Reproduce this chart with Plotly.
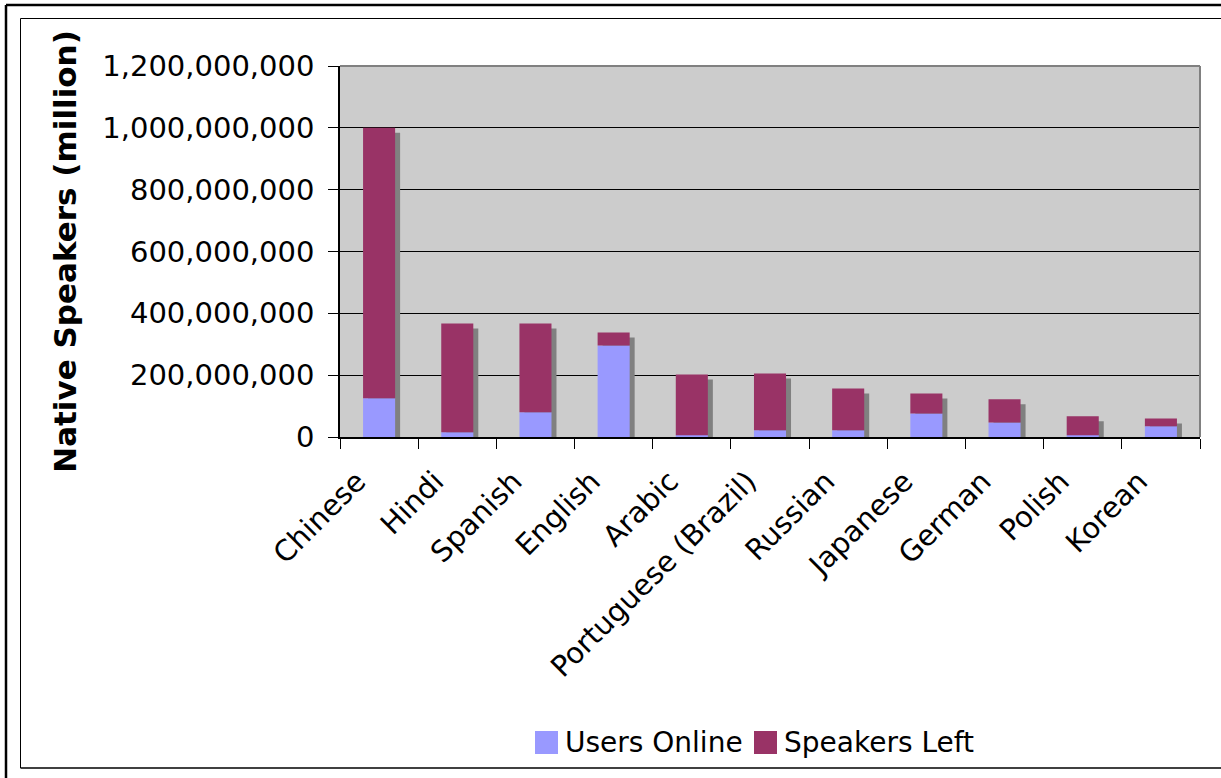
import plotly.graph_objects as go

languages = ["Chinese", "Hindi", "Spanish", "English", "Arabic", "Portuguese (Brazil)",
             "Russian", "Japanese", "German", "Polish", "Korean"]
native_speakers = [1000e6, 367e6, 367e6, 338e6, 202e6, 205e6, 157e6, 141e6, 122e6, 67e6, 60e6]
users_online = [125e6, 15e6, 80e6, 296e6, 5.5e6, 22e6, 22e6, 76e6, 47e6, 5.5e6, 34.5e6]
speakers_left = [t - u for t, u in zip(native_speakers, users_online)]

y_ticks = [0, 200e6, 400e6, 600e6, 800e6, 1000e6, 1200e6]

series_names = ["Users Online", "Speakers Left"]
series_colors = ["#9999FF", "#993366"]

W, H = 1221, 778
L, R, T, B = 340, 21, 66, 341
PW, PH = W - L - R, H - T - B
YMAX = 1200e6
BAR_W = 0.41
SHADOW_DX = 5 / (PW / len(languages))
SHADOW_DY = 5 * YMAX / PH

FONT = "DejaVu Sans"
FS = 29

fig = go.Figure()
fig.add_trace(go.Bar(
    x=languages, y=[t - SHADOW_DY for t in native_speakers], base=0,
    width=BAR_W, offset=-BAR_W / 2 + SHADOW_DX,
    marker=dict(color="#808080", line=dict(width=0)),
    showlegend=False, hoverinfo="skip"))
fig.add_trace(go.Bar(
    x=languages, y=users_online, base=0, name=series_names[0],
    width=BAR_W, offset=-BAR_W / 2, showlegend=False,
    marker=dict(color=series_colors[0], line=dict(width=0))))
fig.add_trace(go.Bar(
    x=languages, y=speakers_left, base=users_online, name=series_names[1],
    width=BAR_W, offset=-BAR_W / 2, showlegend=False,
    marker=dict(color=series_colors[1], line=dict(width=0))))


def px_x(p):
    return (p - L) / PW


def px_y(p):
    return (H - B - p) / PH


shapes = [
    # plot area top/right gray border
    dict(type="line", xref="paper", yref="paper", x0=0, x1=1, y0=1, y1=1,
         line=dict(color="#808080", width=2)),
    dict(type="line", xref="paper", yref="paper", x0=1, x1=1, y0=0, y1=1,
         line=dict(color="#808080", width=2)),
    # outer frame (cropped)
    dict(type="line", xref="paper", yref="paper", x0=px_x(6), x1=px_x(W + 5), y0=px_y(5), y1=px_y(5),
         line=dict(color="#000000", width=2.5)),
    dict(type="line", xref="paper", yref="paper", x0=px_x(6), x1=px_x(6), y0=px_y(5), y1=px_y(H + 5),
         line=dict(color="#000000", width=2.5)),
    # inner frame
    dict(type="line", xref="paper", yref="paper", x0=px_x(20.5), x1=px_x(W + 5), y0=px_y(18.5), y1=px_y(18.5),
         line=dict(color="#000000", width=1)),
    dict(type="line", xref="paper", yref="paper", x0=px_x(20.5), x1=px_x(20.5), y0=px_y(18.5), y1=px_y(768),
         line=dict(color="#000000", width=1)),
    dict(type="line", xref="paper", yref="paper", x0=px_x(20.5), x1=px_x(W + 5), y0=px_y(768), y1=px_y(768),
         line=dict(color="#000000", width=1.5)),
]

# manual legend with large square keys
legend_keys_x = [535, 754]
annotations = []
for name, color, kx in zip(series_names, series_colors, legend_keys_x):
    shapes.append(dict(type="rect", xref="paper", yref="paper",
                       x0=px_x(kx), x1=px_x(kx + 23), y0=px_y(754), y1=px_y(731),
                       fillcolor=color, line=dict(width=0)))
    annotations.append(dict(xref="paper", yref="paper", x=px_x(kx + 28), y=px_y(742.5),
                            xanchor="left", yanchor="middle", showarrow=False, text=name,
                            font=dict(size=FS - 1, family=FONT, color="black")))

fig.update_layout(
    width=W, height=H,
    margin=dict(l=L, r=R, t=T, b=B, autoexpand=False),
    paper_bgcolor="white", plot_bgcolor="#CCCCCC",
    barmode="overlay",
    font=dict(family=FONT, color="black", size=FS),
    shapes=shapes, annotations=annotations,
    showlegend=False,
    xaxis=dict(type="category", tickangle=-45, tickson="boundaries", ticks="outside", ticklen=10,
               tickcolor="black", showline=True, linecolor="black", linewidth=1.5,
               showgrid=False, tickfont=dict(size=FS, family=FONT), ticklabelstandoff=14,
               ticklabelshift=-22,
               range=[-0.5, len(languages) - 0.5]),
    yaxis=dict(range=[0, YMAX], tickvals=y_ticks, tickformat=",d", ticks="outside", ticklen=10,
               tickcolor="black", showline=True, linecolor="black", linewidth=1.5,
               showgrid=True, gridcolor="#000000", gridwidth=1, zeroline=False,
               tickfont=dict(size=FS, family=FONT), ticklabelstandoff=8,
               title=dict(text="<b>Native Speakers (million)</b>", font=dict(size=31, family=FONT),
                          standoff=16)),
)

fig.write_html("out.html", config={"displayModeBar": False},
               post_script="document.body.style.margin='0';")
